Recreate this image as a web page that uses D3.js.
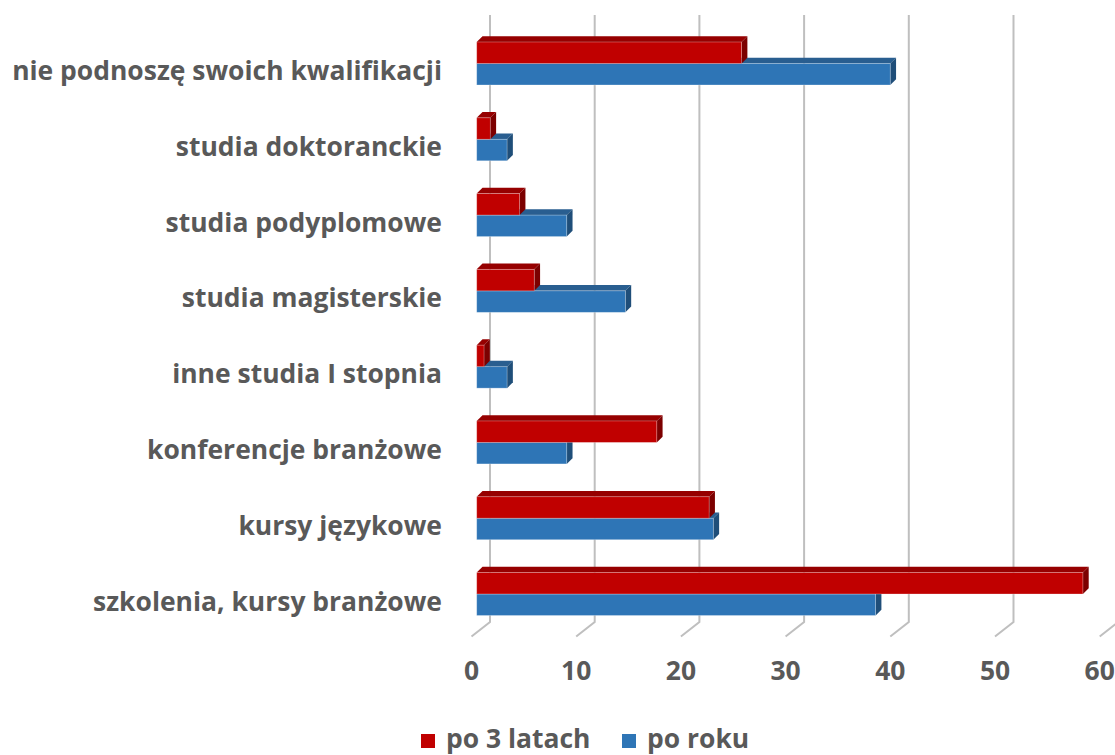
<!DOCTYPE html>
<html>
<head>
<meta charset="utf-8">
<script src="https://cdn.jsdelivr.net/npm/d3@7"></script>
<style>
  body { margin: 0; background: #fff; }
  svg { display: block; }
  text { font-family: "Open Sans", sans-serif; font-weight: 700; fill: #595959; }
</style>
</head>
<body>
<svg></svg>
<script>
// data, top to bottom as drawn
const categories = [
  "nie podnoszę swoich kwalifikacji",
  "studia doktoranckie",
  "studia podyplomowe",
  "studia magisterskie",
  "inne studia I stopnia",
  "konferencje branżowe",
  "kursy językowe",
  "szkolenia, kursy branżowe"
]
const po3latach = [25.3, 1.3, 4.1, 5.5, 0.7, 17.2, 22.2, 57.9]
const poRoku = [39.5, 2.9, 8.6, 14.2, 2.9, 8.6, 22.6, 38.1]
const seriesNames = ["po 3 latach", "po roku"]
const xTicks = [0, 10, 20, 30, 40, 50, 60]

let width = 1115
let height = 755

// 3d offsets
let backX = 490      // zero on the back wall
let barX = 476.7     // zero on the bar front face
let floorX = 471     // zero on the floor front edge
let barDepth = [5.8, -5.8]
let floorDepth = [-18.5, 14.5]
let wallTop = 15
let floorY = 622
let barH = 21.5

let colors = {
  red: { front: "#c00000", top: "#960000", side: "#7c0000" },
  blue: { front: "#2e75b6", top: "#295e90", side: "#1f4e79" }
}

let svg = d3.select("svg").attr("width", width).attr("height", height)

let xScale = d3.scaleLinear().domain([0, 60]).range([0, 628.2])

let yScale = d3.scaleBand()
  .domain(categories)
  .range([63.5 - 37.9, 594 + 37.9])

// gridlines (back wall + floor)
let grid = svg.append("g")
xTicks.forEach(t => {
  let gx = backX + xScale(t)
  grid.append("path")
    .attr("d", `M${gx},${wallTop}L${gx},${floorY}L${gx + floorDepth[0]},${floorY + floorDepth[1]}`)
    .attr("fill", "none")
    .attr("stroke", "#bfbfbf")
    .attr("stroke-width", 2)
})

let drawBar = (x0, y0, len, c) => {
  let g = svg.append("g")
  let x1 = x0 + len
  let [dx, dy] = barDepth
  // top face
  g.append("path")
    .attr("d", `M${x0},${y0}L${x0 + dx},${y0 + dy}L${x1 + dx},${y0 + dy}L${x1},${y0}Z`)
    .attr("fill", c.top)
  // side face
  g.append("path")
    .attr("d", `M${x1},${y0}L${x1 + dx},${y0 + dy}L${x1 + dx},${y0 + barH + dy}L${x1},${y0 + barH}Z`)
    .attr("fill", c.side)
  // front face
  g.append("rect")
    .attr("x", x0).attr("y", y0)
    .attr("width", len).attr("height", barH)
    .attr("fill", c.front)
    .attr("stroke", "rgba(255,255,255,0.35)")
    .attr("stroke-width", 0.8)
}

categories.forEach((cat, i) => {
  let mid = yScale(cat) + yScale.bandwidth() / 2
  drawBar(barX, mid, xScale(poRoku[i]), colors.blue)
  drawBar(barX, mid - barH, xScale(po3latach[i]), colors.red)
})

// category labels
let labels = svg.append("g")
categories.forEach(cat => {
  labels.append("text")
    .attr("x", 442)
    .attr("y", yScale(cat) + yScale.bandwidth() / 2 + 16.5)
    .attr("text-anchor", "end")
    .attr("font-size", 24)
    .text(cat)
})
// fit the longest label to the width seen in the chart
let longest = labels.select("text").node().getComputedTextLength()
let fs = 24 * 430 / longest
labels.selectAll("text").attr("font-size", fs)

// x axis labels at the floor front edge
let xAxis = d3.axisBottom(d3.scaleLinear().domain([0, 60]).range([floorX, floorX + 628.2]))
  .tickValues(xTicks)
  .tickSize(0)
  .tickPadding(0)
svg.append("g")
  .attr("transform", "translate(0, 661)")
  .call(xAxis)
  .call(g => g.select(".domain").remove())
  .selectAll("text")
  .attr("font-size", fs)
  .attr("font-family", null)
  .attr("fill", "#595959")

// legend
let legend = svg.append("g")
let legendX = [421, 622]
seriesNames.forEach((name, i) => {
  legend.append("rect")
    .attr("x", legendX[i]).attr("y", 734)
    .attr("width", 14).attr("height", 14)
    .attr("fill", i === 0 ? colors.red.front : colors.blue.front)
  legend.append("text")
    .attr("x", legendX[i] + 25).attr("y", 748)
    .attr("font-size", fs)
    .text(name)
})
</script>
</body>
</html>
